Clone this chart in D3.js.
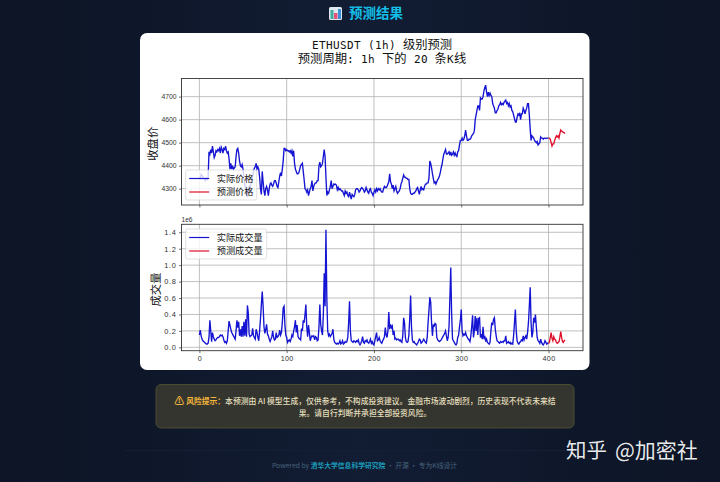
<!DOCTYPE html>
<html>
<head>
<meta charset="utf-8">
<title>预测结果</title>
<script src="https://d3js.org/d3.v7.min.js"></script>
<style>
@font-face { font-family: "HalfMono"; src: local("DejaVu Sans Mono"); unicode-range: U+0-7F; size-adjust: 87%; }
body { margin: 0; background: #0e1628; }
svg { display: block; }
text { font-family: "Noto Sans CJK SC", sans-serif; }
.mono { font-family: "HalfMono", "Noto Sans CJK SC", sans-serif; }
.tick text { fill: #333; font-family: "Liberation Sans", sans-serif; }
</style>
</head>
<body>
<div id="chart"></div>
<script>
// closing price, one value per candle (0..400)
const actualPrice = [
  4350,4345,4362,4358,4350,4345,4340,4335,4345,4340,
  4350,4460,4450,4470,4455,4485,4460,4435,4445,4465,
  4460,4470,4465,4475,4455,4480,4470,4455,4475,4470,
  4485,4465,4455,4460,4430,4385,4410,4385,4400,4385,
  4390,4395,4440,4470,4475,4455,4420,4400,4395,4405,
  4385,4350,4320,4300,4280,4270,4295,4310,4300,4320,
  4340,4355,4375,4390,4395,4410,4385,4395,4385,4350,
  4300,4275,4375,4330,4290,4270,4300,4310,4295,4270,
  4300,4320,4325,4315,4310,4320,4335,4335,4325,4310,
  4305,4330,4355,4370,4355,4385,4420,4475,4475,4465,
  4470,4465,4465,4460,4465,4455,4465,4440,4465,4410,
  4385,4375,4365,4365,4370,4385,4400,4405,4410,4375,
  4340,4300,4295,4285,4295,4270,4285,4300,4310,4335,
  4290,4310,4320,4325,4325,4335,4335,4400,4415,4395,
  4400,4410,4440,4470,4440,4350,4270,4285,4280,4295,
  4310,4335,4300,4310,4320,4318,4320,4315,4295,4305,
  4295,4300,4295,4290,4290,4280,4270,4290,4280,4285,
  4270,4265,4285,4270,4255,4275,4270,4265,4275,4295,
  4300,4300,4295,4285,4290,4300,4305,4300,4295,4285,
  4290,4305,4295,4285,4280,4295,4300,4285,4280,4270,
  4285,4295,4285,4300,4290,4300,4295,4300,4290,4285,
  4285,4300,4310,4305,4305,4310,4320,4330,4365,4330,
  4320,4300,4315,4290,4300,4310,4290,4280,4285,4290,
  4300,4320,4330,4345,4360,4350,4350,4345,4345,4340,
  4340,4300,4280,4275,4275,4280,4280,4285,4290,4300,
  4305,4290,4275,4295,4310,4295,4300,4295,4310,4320,
  4320,4325,4325,4345,4420,4410,4390,4365,4345,4325,
  4330,4320,4330,4340,4345,4355,4370,4390,4405,4430,
  4450,4460,4470,4450,4450,4455,4460,4445,4460,4445,
  4450,4460,4445,4455,4445,4440,4460,4465,4490,4510,
  4510,4520,4510,4515,4530,4555,4530,4510,4510,4515,
  4515,4520,4530,4535,4540,4550,4600,4620,4640,4660,
  4660,4640,4695,4690,4690,4700,4725,4740,4750,4720,
  4700,4720,4705,4715,4705,4700,4670,4660,4650,4630,
  4630,4640,4645,4660,4665,4675,4665,4670,4665,4675,
  4680,4685,4670,4675,4660,4670,4655,4660,4640,4635,
  4620,4605,4590,4590,4610,4625,4620,4630,4600,4625,
  4625,4650,4640,4625,4640,4650,4670,4670,4620,4560,
  4510,4530,4525,4520,4510,4505,4500,4505,4490,4495,
  4500,4525,4520,4520,4515,4520,4520,4518,4520,4520,
  4520
];
// predicted price (400..419)
const predPrice = [
  4520,4520,4515,4500,4485,4495,4495,4510,4520,4530,
  4525,4530,4520,4540,4555,4550,4548,4545,4543,4540
];
// volume in units of 1e6 (0..400)
const actualVolume = [
  .15,.21,.14,.10,.08,.07,.06,.05,.04,.04,
  .05,.12,.33,.20,.07,.18,.13,.10,.08,.09,
  .11,.12,.12,.13,.15,.14,.15,.13,.09,.06,
  .07,.05,.08,.20,.32,.27,.22,.18,.16,.14,
  .12,.10,.20,.33,.24,.31,.14,.22,.13,.26,
  .13,.31,.14,.34,.13,.51,.42,.16,.13,.14,
  .15,.23,.14,.12,.10,.22,.18,.12,.08,.20,
  .35,.52,.68,.50,.25,.17,.22,.28,.16,.14,
  .10,.07,.10,.13,.20,.12,.09,.10,.18,.12,
  .13,.15,.21,.15,.18,.30,.48,.50,.27,.15,
  .12,.06,.08,.09,.07,.10,.15,.13,.20,.25,
  .33,.18,.27,.13,.11,.10,.09,.23,.20,.33,
  .30,.40,.52,.25,.13,.27,.18,.08,.12,.14,
  .13,.14,.09,.13,.12,.08,.09,.25,.52,.28,
  .20,.15,.40,.90,.50,1.43,.60,.20,.14,.16,
  .13,.15,.17,.22,.10,.06,.05,.04,.05,.04,
  .05,.08,.04,.05,.08,.04,.05,.07,.06,.07,
  .12,.30,.56,.20,.08,.07,.06,.08,.07,.06,
  .08,.07,.09,.05,.03,.05,.08,.13,.06,.05,
  .08,.07,.09,.06,.05,.07,.10,.05,.07,.04,
  .03,.08,.13,.18,.08,.09,.12,.08,.06,.05,
  .08,.10,.13,.24,.15,.12,.20,.43,.22,.28,
  .24,.26,.15,.20,.10,.11,.09,.10,.10,.08,
  .09,.07,.06,.14,.36,.30,.12,.07,.06,.07,
  .15,.35,.63,.25,.09,.06,.07,.05,.04,.03,
  .05,.07,.10,.09,.05,.06,.08,.10,.08,.06,
  .05,.12,.30,.45,.61,.55,.30,.14,.27,.26,
  .29,.28,.12,.09,.08,.07,.08,.09,.11,.13,
  .15,.17,.20,.14,.08,.12,.25,.60,.97,.40,
  .10,.08,.06,.04,.03,.05,.12,.15,.25,.33,
  .46,.20,.14,.16,.15,.18,.14,.12,.10,.09,
  .07,.14,.25,.39,.12,.20,.38,.20,.36,.15,
  .35,.36,.12,.16,.10,.25,.10,.14,.07,.10,
  .06,.05,.04,.06,.20,.30,.27,.34,.36,.22,
  .14,.08,.07,.06,.05,.07,.06,.07,.06,.08,
  .08,.14,.05,.06,.07,.05,.06,.04,.05,.04,
  .14,.30,.46,.20,.08,.05,.04,.06,.07,.09,
  .08,.14,.09,.12,.14,.10,.18,.30,.50,.73,
  .30,.12,.18,.36,.30,.40,.25,.12,.08,.07,
  .05,.10,.06,.04,.03,.05,.08,.06,.04,.05,
  .05
];
// predicted volume (400..419)
const predVolume = [
  .05,.06,.12,.18,.11,.08,.13,.10,.09,.06,
  .05,.06,.07,.12,.19,.12,.07,.06,.08,.09
];
const xTicks = [0, 100, 200, 300, 400];
const priceTicks = [4300, 4400, 4500, 4600, 4700];
const volumeTicks = [0, .2, .4, .6, .8, 1.0, 1.2, 1.4];
const predStart = 400;

const svg = d3.select("#chart").append("svg").attr("width", 720).attr("height", 482);

// page background
const defs = svg.append("defs");
const bg = defs.append("linearGradient").attr("id", "column");
bg.append("stop").attr("offset", "0").attr("stop-color", "#0d1526");
bg.append("stop").attr("offset", "0.17").attr("stop-color", "#0e1729");
bg.append("stop").attr("offset", "0.5").attr("stop-color", "#121c33");
bg.append("stop").attr("offset", "0.83").attr("stop-color", "#0e1729");
bg.append("stop").attr("offset", "1").attr("stop-color", "#0d1526");
svg.append("rect").attr("width", 720).attr("height", 482).attr("fill", "url(#column)");

// header: icon + heading
const icon = svg.append("g").attr("transform", "translate(329,7)");
icon.append("rect").attr("width", 13).attr("height", 13).attr("rx", 1.5).attr("fill", "#dfe8ee");
icon.append("rect").attr("x", 1.5).attr("y", 3).attr("width", 3).attr("height", 9).attr("fill", "#3fae9e");
icon.append("rect").attr("x", 5).attr("y", 6).attr("width", 3.5).attr("height", 6).attr("fill", "#e8527a");
icon.append("rect").attr("x", 9).attr("y", 2).attr("width", 3).attr("height", 10).attr("fill", "#3f8fd8");
svg.append("text").attr("x", 349).attr("y", 18).attr("font-size", 13.5).attr("font-weight", 700)
  .attr("fill", "#14bfe8").text("预测结果");

// white card
svg.append("rect").attr("x", 140).attr("y", 33).attr("width", 449.5).attr("height", 337).attr("rx", 7).attr("fill", "#fff");

svg.append("text").attr("class", "mono").attr("x", 382).attr("y", 49).attr("text-anchor", "middle").attr("font-size", 12.3)
  .attr("fill", "#111").text("ETHUSDT (1h) 级别预测");
svg.append("text").attr("class", "mono").attr("x", 382).attr("y", 63).attr("text-anchor", "middle").attr("font-size", 12.3)
  .attr("fill", "#111").text("预测周期: 1h 下的 20 条K线");

const left = 181.5, right = 583;
const x = d3.scaleLinear().domain([-20.5, 439.5]).range([left, right]);
const yPrice = d3.scaleLinear().domain([4229, 4779]).range([205, 78.5]);
const yVolume = d3.scaleLinear().domain([-.041, 1.497]).range([350.7, 224.3]);

function panel(y, yTicks, actual, pred, opts) {
  const g = svg.append("g");
  const top = y.range()[1], bottom = y.range()[0];

  // grid
  g.append("g").selectAll("line").data(xTicks).join("line")
    .attr("x1", d => x(d)).attr("x2", d => x(d)).attr("y1", top).attr("y2", bottom)
    .attr("stroke", "#b0b0b0").attr("stroke-width", 0.8);
  g.append("g").selectAll("line").data(yTicks).join("line")
    .attr("x1", left).attr("x2", right).attr("y1", d => y(d)).attr("y2", d => y(d))
    .attr("stroke", "#b0b0b0").attr("stroke-width", 0.8);

  // lines
  const line = d3.line().x((d, i) => x(i)).y(d => y(d));
  const predLine = d3.line().x((d, i) => x(predStart + i)).y(d => y(d));
  g.append("path").attr("d", line(actual)).attr("fill", "none").attr("stroke", "#1414d2").attr("stroke-width", 1.35);
  g.append("path").attr("d", predLine(pred)).attr("fill", "none").attr("stroke", "#e0102c").attr("stroke-width", 1.35);

  // axes
  const axisX = g.append("g").attr("transform", "translate(0," + bottom + ")")
    .call(d3.axisBottom(x).tickValues(xTicks).tickSize(2.5).tickFormat(opts.showX ? d3.format("d") : ""));
  const axisY = g.append("g").attr("transform", "translate(" + left + ",0)")
    .call(d3.axisLeft(y).tickValues(yTicks).tickSize(2.5).tickPadding(2.5).tickFormat(opts.format));
  axisX.selectAll("text").attr("font-size", 7.2).attr("letter-spacing", 0.3);
  axisY.selectAll("text").attr("font-size", opts.tickSize).attr("letter-spacing", opts.tickSpacing);
  [axisX, axisY].forEach(a => {
    a.select(".domain").remove();
    a.selectAll(".tick line").attr("stroke", "#333").attr("stroke-width", 0.7);
  });
  g.append("rect").attr("x", left).attr("y", top).attr("width", right - left).attr("height", bottom - top)
    .attr("fill", "none").attr("stroke", "#333").attr("stroke-width", 0.9);

  // y label
  g.append("text").attr("transform", "translate(" + opts.labelX + "," + ((top + bottom) / 2 + 2) + ") rotate(-90)")
    .attr("text-anchor", "middle").attr("font-size", 11.3).attr("fill", "#111").text(opts.label);

  // legend
  const lg = g.append("g").attr("transform", "translate(" + opts.legend[0] + "," + opts.legend[1] + ")");
  lg.append("rect").attr("width", opts.legend[2]).attr("height", 30).attr("rx", 1.5)
    .attr("fill", "#fff").attr("fill-opacity", 0.8).attr("stroke", "#ccc").attr("stroke-width", 0.6);
  opts.names.forEach((name, i) => {
    const ly = 8.5 + i * 13.5;
    lg.append("line").attr("x1", 3.5).attr("x2", 23.5).attr("y1", ly).attr("y2", ly)
      .attr("stroke", i ? "#e0102c" : "#1414d2").attr("stroke-width", 1.2);
    lg.append("text").attr("x", 31).attr("y", ly + 3.3).attr("font-size", 9.2).attr("fill", "#111").text(name);
  });
}

panel(yPrice, priceTicks, actualPrice, predPrice, {
  showX: false, format: d3.format("d"), tickSize: 6.8, tickSpacing: 0, label: "收盘价", labelX: 156.5,
  legend: [185.7, 170, 71], names: ["实际价格", "预测价格"]
});
panel(yVolume, volumeTicks, actualVolume, predVolume, {
  showX: true, format: d3.format(".1f"), tickSize: 7.4, tickSpacing: 0.7, label: "成交量", labelX: 160,
  legend: [185.7, 229, 81], names: ["实际成交量", "预测成交量"]
});
svg.append("text").attr("x", 181.5).attr("y", 222).attr("font-size", 6.6).attr("fill", "#333")
  .style("font-family", "'Liberation Sans'").text("1e6");

// risk notice
svg.append("rect").attr("x", 156).attr("y", 384.5).attr("width", 418).attr("height", 43.5).attr("rx", 5)
  .attr("fill", "#34352f").attr("stroke", "#565733").attr("stroke-width", 0.8);
const notice = svg.append("text").attr("x", 365).attr("y", 403.5).attr("text-anchor", "middle").attr("font-size", 7.8);
notice.append("tspan").attr("fill", "#f5b63c").attr("font-size", 9.5).attr("font-weight", 700).text("⚠ ");
notice.append("tspan").attr("fill", "#f5b63c").attr("font-weight", 700).text("风险提示：");
notice.append("tspan").attr("fill", "#e4dfbd").attr("font-weight", 500).text("本预测由 AI 模型生成，仅供参考，不构成投资建议。金融市场波动剧烈，历史表现不代表未来结");
svg.append("text").attr("x", 365).attr("y", 416).attr("text-anchor", "middle").attr("font-size", 7.8).attr("font-weight", 500)
  .attr("fill", "#e4dfbd").text("果。请自行判断并承担全部投资风险。");

// footer
svg.append("line").attr("x1", 125).attr("x2", 600).attr("y1", 450.5).attr("y2", 450.5).attr("stroke", "#18233a").attr("stroke-width", 0.6);
const foot = svg.append("text").attr("x", 364.5).attr("y", 468).attr("text-anchor", "middle").attr("font-size", 6.8).attr("fill", "#47647c");
foot.append("tspan").text("Powered by ");
foot.append("tspan").attr("fill", "#1b9ab8").attr("font-weight", 700).text("清华大学信息科学研究院");
foot.append("tspan").text(" · 开源 · 专为K线设计");

// watermark
svg.append("text").attr("x", 566).attr("y", 458).attr("font-size", 20.5).attr("fill", "#fff").attr("fill-opacity", 0.92).text("知乎");
svg.append("text").attr("x", 615).attr("y", 458).attr("font-size", 21).attr("fill", "#fff").attr("fill-opacity", 0.92).text("@加密社");
</script>
</body>
</html>
